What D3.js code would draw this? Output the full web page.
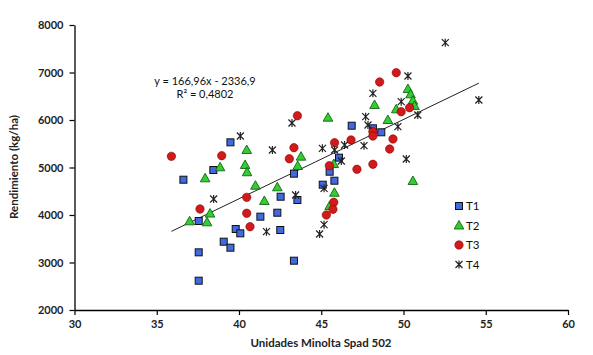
<!DOCTYPE html>
<html><head><meta charset="utf-8">
<script src="https://cdn.jsdelivr.net/npm/d3@7"></script>
<style>body{margin:0;background:#fff}svg{display:block}</style>
</head><body>
<svg id="c" width="593" height="355"></svg>
<script>
const xTicks=[30,35,40,45,50,55,60];
const yTicks=[2000,3000,4000,5000,6000,7000,8000];
const seriesNames=["T1","T2","T3","T4"];
const t1x=[36.62,37.55,37.55,37.55,38.44,39.48,39.8,40.08,39.07,39.48,41.3,42.33,42.51,43.34,42.53,43.55,43.34,45.09,45.51,45.8,46.08,46.85,48.14,48.65];
const t1y=[4743,3874,3214,2617,4947,5530,3705,3614,3438,3312,3965,4048,3684,3038,4385,4316,4870,4638,4912,4722,5207,5880,5825,5741];
const t2x=[37.0,38.06,38.24,37.94,38.85,40.47,40.37,40.49,41.0,41.54,42.33,43.77,43.57,45.41,45.76,45.8,45.51,48.24,49.05,49.56,50.27,50.43,50.57,50.57,50.67];
const t2y=[3867,3846,4030,4772,5004,5368,5053,4900,4617,4295,4583,5228,5032,6049,5074,4469,4189,6316,6000,6225,6652,6540,6406,4716,6295];
const t3x=[35.89,37.63,38.95,40.47,40.47,40.67,43.55,43.34,43.06,45.81,46.81,45.49,47.17,45.76,45.71,45.31,49.56,48.55,49.86,50.37,48.14,48.14,49.36,49.16,48.14];
const t3y=[5235,4126,5248,4372,4036,3754,6090,5417,5185,5522,5579,5038,4962,4267,4120,4000,6996,6800,6175,6259,5754,5663,5600,5389,5067];
const t4x=[40.08,38.46,41.67,43.22,42.03,45.07,45.81,46.42,46.22,45.17,43.44,45.17,44.9,50.27,48.14,49.86,50.87,47.7,47.84,49.66,47.6,50.17,52.54,54.58];
const t4y=[5663,4337,3649,5937,5368,5404,5368,5474,5137,4562,4421,3796,3600,6926,6562,6386,6105,6070,5895,5859,5459,5179,7628,6421];
const slope=166.96, intercept=-2336.9;
const eqText="y = 166,96x - 2336,9", r2Text="R² = 0,4802";

const svg=d3.select("#c");
const font="Lato, 'Open Sans', sans-serif";
const x=d3.scaleLinear().domain([30,60]).range([74.5,568]);
const y=d3.scaleLinear().domain([2000,8000]).range([310,25]);

const xa=svg.append("g").attr("transform","translate(0,310)")
  .call(d3.axisBottom(x).tickValues(xTicks).tickSize(5).tickSizeOuter(0).tickFormat(d3.format("d")));
const ya=svg.append("g").attr("transform","translate(74.5,0)")
  .call(d3.axisLeft(y).tickValues(yTicks).tickSize(5).tickSizeOuter(0).tickFormat(d3.format("d")));
[xa,ya].forEach(a=>{a.select(".domain").attr("stroke","#000").attr("stroke-width",1.3);
  a.selectAll(".tick line").attr("stroke","#000").attr("stroke-width",1.2);
  a.selectAll("text").attr("font-family",font).attr("font-size",11).attr("font-weight","bold").attr("fill","#222");});
xa.selectAll("text").attr("dy","0.95em");
ya.selectAll("text").attr("x",-11);

svg.append("text").attr("x",321).attr("y",347).attr("text-anchor","middle")
  .attr("font-family",font).attr("font-size",11.5).attr("font-weight","bold").attr("fill","#222").text("Unidades Minolta Spad 502");
svg.append("text").attr("transform","translate(18,167) rotate(-90)").attr("text-anchor","middle")
  .attr("font-family",font).attr("font-size",11.5).attr("font-weight","bold").attr("fill","#222").text("Rendimiento (kg/ha)");

// regression line
const allX=[...t1x,...t2x,...t3x,...t4x];
const xmin=d3.min(allX), xmax=d3.max(allX);
svg.append("line").attr("x1",x(xmin)).attr("y1",y(slope*xmin+intercept))
  .attr("x2",x(xmax)).attr("y2",y(slope*xmax+intercept)).attr("stroke","#222").attr("stroke-width",1);

svg.append("text").attr("x",205).attr("y",85).attr("text-anchor","middle").attr("font-family",font).attr("font-size",11).attr("fill","#111").text(eqText);
svg.append("text").attr("x",205).attr("y",98).attr("text-anchor","middle").attr("font-family",font).attr("font-size",11).attr("fill","#111").text(r2Text);

function drawMarker(g,type){
  if(type===0) g.append("rect").attr("x",-3.5).attr("y",-3.5).attr("width",7).attr("height",7).attr("fill","#4169E1").attr("stroke","#111").attr("stroke-width",1);
  else if(type===1) g.append("path").attr("d","M0,-5L4.8,3.5L-4.8,3.5Z").attr("fill","#33CC33").attr("stroke","#116611").attr("stroke-width",0.9);
  else if(type===2) g.append("circle").attr("r",4.2).attr("fill","#D11A1A").attr("stroke","#8B0000").attr("stroke-width",0.6);
  else g.append("path").attr("d","M-3.5,-3.5L3.5,3.5M-3.5,3.5L3.5,-3.5M0,-4L0,4").attr("stroke","#222").attr("stroke-width",1.2).attr("fill","none");
}
const sets=[[t1x,t1y],[t2x,t2y],[t3x,t3y],[t4x,t4y]];
sets.forEach(([xs,ys],si)=>{
  xs.forEach((v,i)=>{const g=svg.append("g").attr("transform",`translate(${x(v)},${y(ys[i])})`);drawMarker(g,si);});
});

// legend
seriesNames.forEach((n,i)=>{
  const ly=206+i*19.5;
  const g=svg.append("g").attr("transform",`translate(459,${ly})`);drawMarker(g,i);
  svg.append("text").attr("x",466).attr("y",ly+4).attr("font-family",font).attr("font-size",11.5).attr("fill","#111").text(n);
});
</script>
</body></html>
